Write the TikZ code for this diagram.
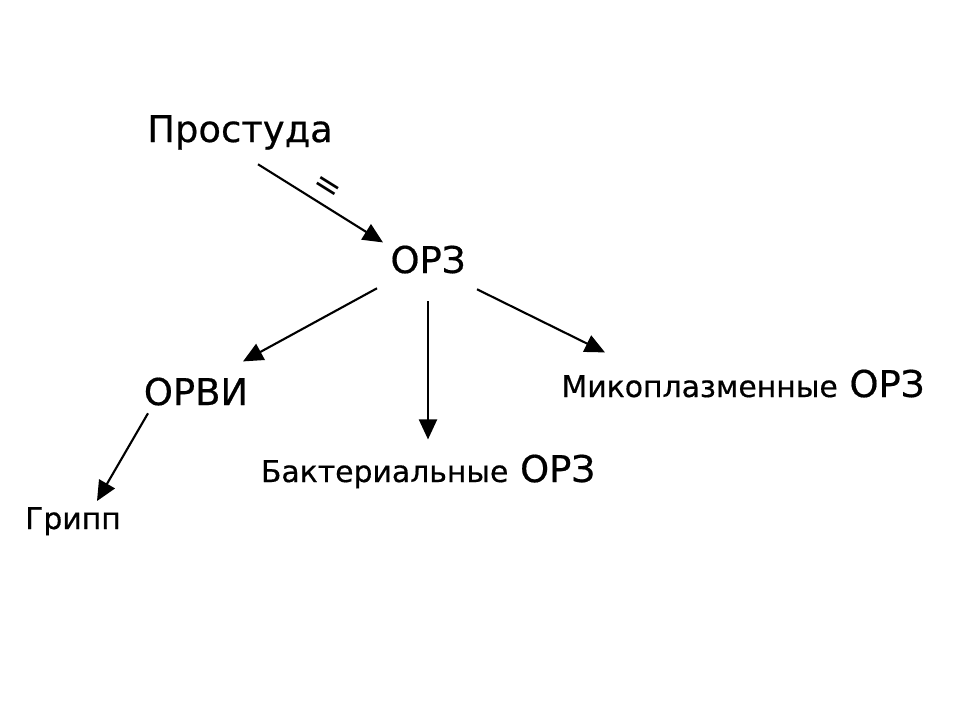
\documentclass[tikz,border=0pt]{standalone}
\usepackage{fontspec}
\setmainfont{DejaVu Sans}[BoldFont=DejaVu Sans, BoldFeatures={FakeBold=0.5}]
\usetikzlibrary{arrows.meta}

\newcommand{\smalltxt}{\fontsize{17}{20}\selectfont}

\begin{document}
\begin{tikzpicture}[x=0.02cm, y=-0.02cm, every node/.style={font={\bfseries\fontsize{21}{25}\selectfont}, inner sep=0pt, text height=16.8pt, text depth=5.25pt, anchor=base}, >={Triangle[length=0.4cm, width=0.36cm]}, line width=1.2pt]
    \useasboundingbox (0,0) rectangle (960,720);
    \node (prost) at (240,142) {Простуда};
    \node (orz) at (428,273) {ОРЗ};
    \node (orvi) at (196,405) {ОРВИ};
    \node (bakt) at (428,482) {{\smalltxt Бактериальные} ОРЗ};
    \node (miko) at (743,397) {{\smalltxt Микоплазменные} ОРЗ};
    \node[font={\bfseries\smalltxt}, text height=13.6pt, text depth=4.25pt] (gripp) at (73,529) {Грипп};

    \draw[->] ([shift={(18,12)}]prost.south) to [edge node={node [sloped, above=4pt, pos=0.48, font={\fontsize{19}{20}\selectfont}, text height=.5em, text depth=0pt] {=}}] ([shift={(-45,0)}]orz.north);
    \draw[->] ([shift={(-51,5)}]orz.south) -- ([shift={(47,-13)}]orvi.north);
    \draw[->] ([shift={(0,18)}]orz.south) -- ([shift={(0,-12)}]bakt.north);
    \draw[->] ([shift={(49,6)}]orz.south) -- ([shift={(-138,-14)}]miko.north);
    \draw[->] ([shift={(-48,-2)}]orvi.south) -- ([shift={(24,-3)}]gripp.north);
\end{tikzpicture}
\end{document}
